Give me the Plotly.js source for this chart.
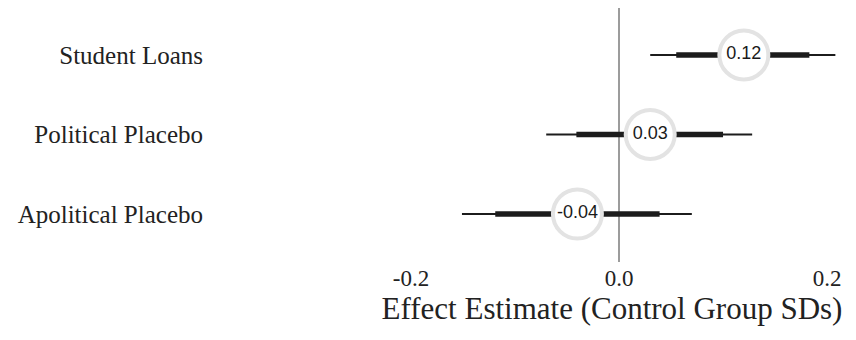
<!DOCTYPE html>
<html>
<head>
<meta charset="utf-8">
<script src="https://cdn.plot.ly/plotly-3.0.1.min.js"></script>
<style>html,body{margin:0;padding:0;background:#fff;}#chart{width:856px;height:340px;}</style>
</head>
<body>
<div id="chart"></div>
<script>
const categories = ['Apolitical Placebo', 'Political Placebo', 'Student Loans'];
const estimates = [-0.04, 0.03, 0.12];
const estimateLabels = ['-0.04', '0.03', '0.12'];
const outerLow = [-0.151, -0.070, 0.030];
const outerHigh = [0.070, 0.128, 0.208];
const innerLow = [-0.119, -0.041, 0.055];
const innerHigh = [0.039, 0.100, 0.183];
const xTickVals = [-0.2, 0.0, 0.2];
const xTickText = ['-0.2', '0.0', '0.2'];

const yPos = categories.map((c, i) => i);
const traces = [];
categories.forEach((c, i) => {
  traces.push({type: 'scatter', mode: 'lines', x: [outerLow[i], outerHigh[i]], y: [i, i],
    line: {color: '#1c1c1c', width: 2}, hoverinfo: 'skip', showlegend: false});
  traces.push({type: 'scatter', mode: 'lines', x: [innerLow[i], innerHigh[i]], y: [i, i],
    line: {color: '#1c1c1c', width: 5.5}, hoverinfo: 'skip', showlegend: false});
});
traces.push({type: 'scatter', mode: 'markers+text', x: estimates, y: yPos,
  text: estimateLabels, textposition: 'middle center',
  textfont: {family: 'Liberation Sans, Arial, sans-serif', size: 18, color: '#1a1a1a'},
  marker: {size: 49, color: '#ffffff', line: {color: '#e3e3e3', width: 4}},
  showlegend: false, cliponaxis: false});

const layout = {
  width: 856, height: 340,
  margin: {l: 380, r: 12, t: 8, b: 78},
  paper_bgcolor: '#fff', plot_bgcolor: '#fff',
  font: {family: 'Liberation Serif, Times New Roman, serif', color: '#222'},
  xaxis: {range: [-0.2298, 0.2163], tickvals: xTickVals, ticktext: xTickText,
    showgrid: false, zeroline: true, zerolinecolor: '#9c9c9c', zerolinewidth: 2,
    showline: false, ticks: '', tickfont: {size: 23, color: '#222'},
    title: {text: 'Effect Estimate (Control Group SDs)', font: {size: 31, color: '#222'}, standoff: 1}},
  yaxis: {range: [-0.604, 2.59], tickvals: yPos, ticktext: categories,
    showgrid: false, zeroline: false, showline: false, ticks: '',
    ticklabelstandoff: 176, tickfont: {size: 25, color: '#222'}},
};
Plotly.newPlot('chart', traces, layout, {displayModeBar: false, staticPlot: true});
</script>
</body>
</html>
